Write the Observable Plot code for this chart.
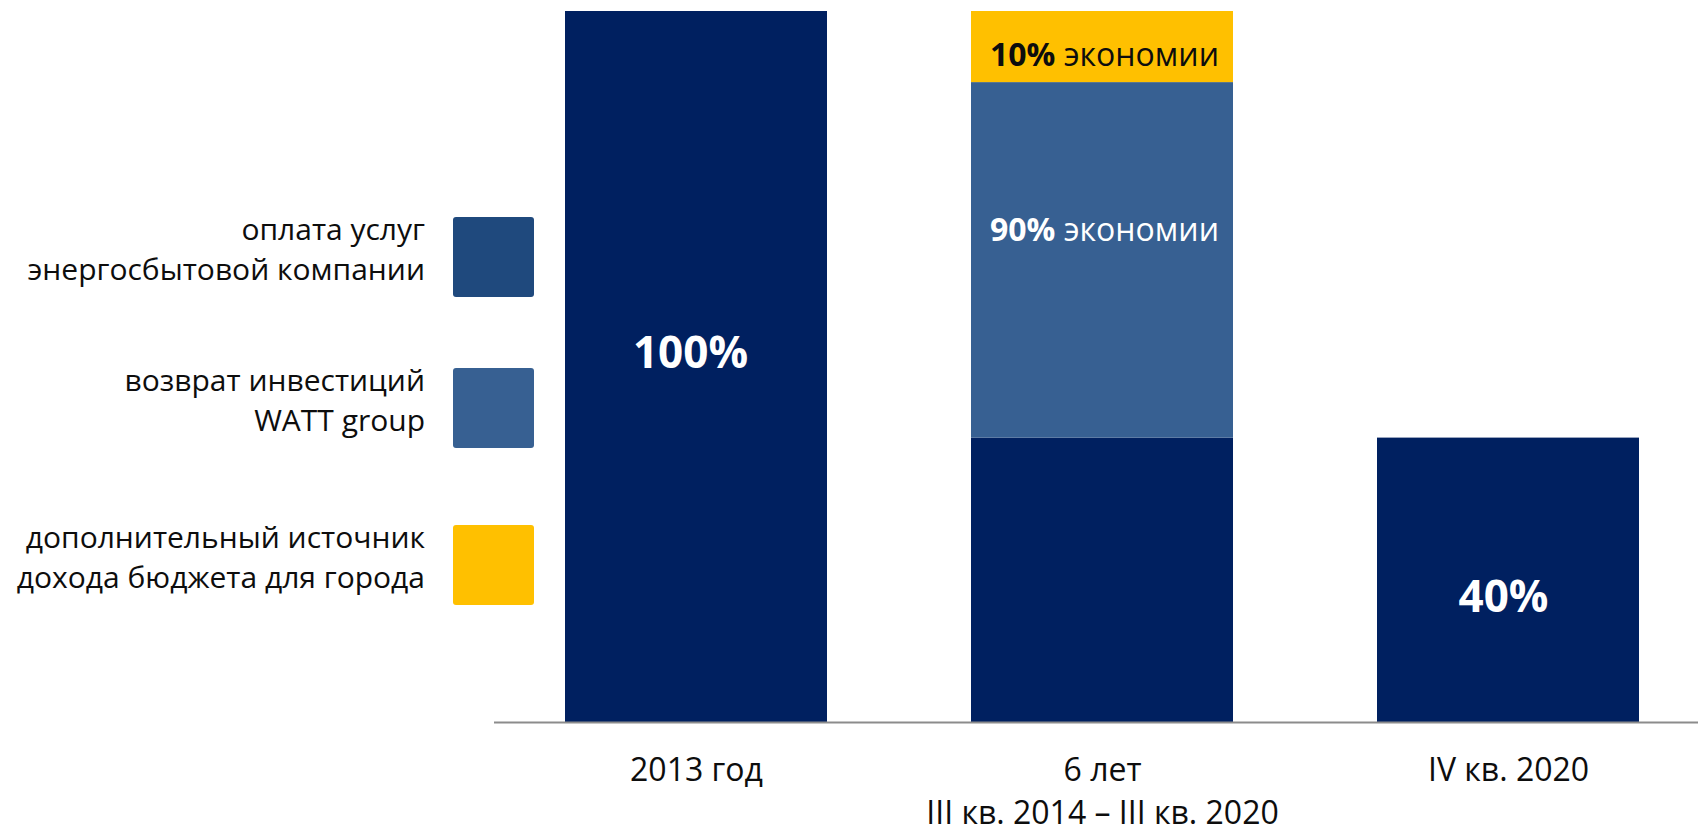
<!DOCTYPE html>
<html><head><meta charset="utf-8">
<script src="https://cdn.jsdelivr.net/npm/d3@7"></script>
<script src="https://cdn.jsdelivr.net/npm/@observablehq/plot@0.6"></script>
<style>
html,body{margin:0;padding:0;background:#fff;overflow:hidden;}
#wrap{position:relative;width:1698px;height:832px;font-family:'Open Sans',sans-serif;}
#chart{position:absolute;left:0;top:0;}
#legend{position:absolute;left:0;top:217px;width:534px;}
.row{display:flex;align-items:center;justify-content:flex-end;height:80px;}
.row + .row{margin-top:71px;}
.row.r3{margin-top:77px;}
.lab{text-align:right;font-size:30px;line-height:40px;color:#0d0d0d;margin-right:28px;position:relative;top:-8px;white-space:nowrap;}
.sw{width:81px;height:80px;border-radius:3px;flex:none;}
</style></head>
<body><div id="wrap"><div id="chart"></div><div id="legend"></div></div>
<script>
// ---- data ----
const periods = ["2013 год", "6 лет", "IV кв. 2020"];
const periodSubLabels = ["", "III кв. 2014 – III кв. 2020", ""];
const series = ["оплата услуг энергосбытовой компании", "возврат инвестиций WATT group", "дополнительный источник дохода бюджета для города"];
const legendLines = [["оплата услуг", "энергосбытовой компании"], ["возврат инвестиций", "WATT group"], ["дополнительный источник", "дохода бюджета для города"]];
const paymentValues = [100, 40, 40];
const investReturnValues = [0, 50, 0];
const cityIncomeValues = [0, 10, 0];
const paymentLabels = ["100%", "", "40%"];
const investReturnLabels = ["", "90% экономии", ""];
const cityIncomeLabels = ["", "10% экономии", ""];
const barColors = ["#002060", "#376092", "#FFC000"];
const legendColors = ["#1F497D", "#376092", "#FFC000"];

// ---- table for the library ----
const valueSets = [paymentValues, investReturnValues, cityIncomeValues];
const labelSets = [paymentLabels, investReturnLabels, cityIncomeLabels];
const rows = [];
periods.forEach((p, i) => {
  series.forEach((s, k) => {
    rows.push({period: p, series: s, value: valueSets[k][i], label: labelSets[k][i], si: k, pi: i});
  });
});

function labelMark(k, i, opts) {
  return Plot.text(rows, Plot.stackY({
    x: "period", y: "value", z: "series",
    text: d => (d.si === k && d.pi === i && d.label) ? d.label : null,
    ...opts
  }));
}

const chart = Plot.plot({
  width: 1698,
  height: 832,
  marginLeft: 494,
  marginRight: 0,
  marginTop: 11,
  marginBottom: 110,
  style: {fontFamily: "'Open Sans', sans-serif", fontSize: "30px", color: "#0d0d0d", background: "white"},
  x: {type: "band", domain: periods, paddingInner: 0.355, paddingOuter: 0.16, align: 0.546, label: null},
  y: {domain: [0, 100], axis: null},
  color: {domain: series, range: barColors},
  marks: [
    Plot.barY(rows, Plot.stackY({x: "period", y: "value", z: "series", fill: "series"})),
    Plot.ruleY([0], {stroke: "#8c8c8c", strokeWidth: 2}),
    Plot.axisX({
      tickSize: 0, tickPadding: 28, fontSize: 32, lineHeight: 1.34, label: null,
      tickFormat: (d) => { const i = periods.indexOf(d); return periodSubLabels[i] ? d + "\n" + periodSubLabels[i] : d; }
    }),
    labelMark(0, 0, {fill: "white", fontWeight: "bold", fontSize: 44, dy: -13, dx: -6}),
    labelMark(0, 2, {fill: "white", fontWeight: "bold", fontSize: 44, dy: 18, dx: -5}),
    labelMark(1, 1, {fill: "white", fontWeight: "normal", fontSize: 32, dy: -30, dx: 2}),
    labelMark(2, 1, {fill: "#0d0d0d", fontWeight: "normal", fontSize: 32, dy: 9, dx: 2})
  ]
});

// mixed-weight labels ("10%" bold, rest regular)
d3.select(chart).selectAll("text").each(function() {
  if (this.querySelector("tspan")) return;
  const m = (this.textContent || "").match(/^(\d+%)\s(.+)$/);
  if (m) {
    this.textContent = "";
    d3.select(this).append("tspan").attr("font-weight", "bold").text(m[1]);
    d3.select(this).append("tspan").attr("font-weight", "normal").text(" " + m[2]);
  }
});

document.getElementById("chart").appendChild(chart);

// ---- legend ----
const legend = d3.select("#legend");
legendLines.forEach((lines, k) => {
  const row = legend.append("div").attr("class", "row r" + (k + 1));
  const lab = row.append("div").attr("class", "lab");
  lines.forEach(l => lab.append("div").text(l));
  row.append("div").attr("class", "sw").style("background", legendColors[k]);
});
</script>
</body></html>
